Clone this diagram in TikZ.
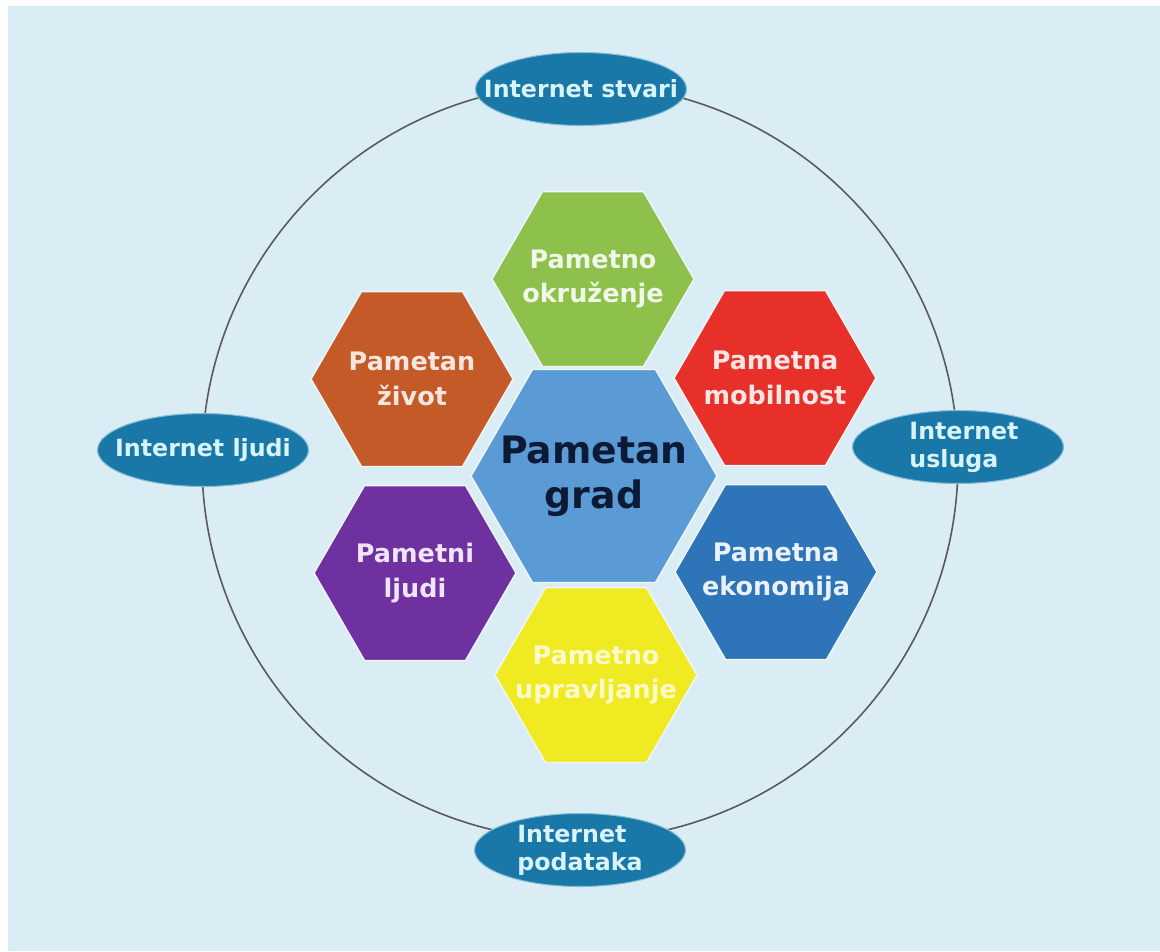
\documentclass[tikz,border=0pt]{standalone}
\usepackage{fontspec}
\setmainfont{DejaVu Sans}
\usepackage{xcolor}
\usetikzlibrary{shapes.geometric}
\definecolor{bgblue}{HTML}{DBEDF4}
\definecolor{ovalblue}{HTML}{1A78A8}
\definecolor{ovaltext}{HTML}{D8F4FA}
\definecolor{hubblue}{HTML}{5B9BD5}
\definecolor{hubtext}{HTML}{0C1A36}
\definecolor{envgreen}{HTML}{8DC14C}
\definecolor{lifeorange}{HTML}{C45A28}
\definecolor{mobred}{HTML}{E8302A}
\definecolor{peoplepurple}{HTML}{7031A0}
\definecolor{econblue}{HTML}{2E74B8}
\definecolor{govyellow}{HTML}{F0EA22}

\begin{document}
\begin{tikzpicture}[x=0.02cm, y=-0.02cm,
  hexa/.style={regular polygon, regular polygon sides=6, minimum size=4.04cm, inner sep=0pt, draw=white!55!bgblue, line width=0.8pt},
  hexlabel/.style={align=center, font=\bfseries\fontsize{14.5}{19.5}\selectfont},
  hub/.style={hexa, minimum size=4.92cm, fill=hubblue},
  hublabel/.style={align=center, text=hubtext, font=\bfseries\fontsize{21.5}{25.5}\selectfont},
  oval/.style={ellipse, fill=ovalblue, draw=ovaltext!55!ovalblue, line width=0.6pt, minimum width=4.22cm, minimum height=1.46cm, inner sep=0pt},
  ovallabel/.style={align=left, text=ovaltext, font=\bfseries\fontsize{13.5}{16}\selectfont},
  ring/.style={draw=black!65, line width=0.9pt}
]
  % background and page size
  \fill[white] (0,0) rectangle (1160,951);
  \fill[bgblue] (8,6) rectangle (1160,951);
  \useasboundingbox (0,0) rectangle (1160,951);

  % outer ring
  \coordinate (middle) at (580,462);
  \draw[ring] (middle) circle (378);

  % internets on the ring
  \node[oval, label={[ovallabel]center:Internet stvari}] (stvari) at (581,89) {};
  \node[oval, label={[ovallabel, xshift=0.12cm]center:{Internet\\usluga}}] (usluga) at (958,447) {};
  \node[oval, label={[ovallabel]center:{Internet\\podataka}}] (podataka) at (580,850) {};
  \node[oval, label={[ovallabel]center:Internet ljudi}] (ljudi) at (203,450) {};

  % honeycomb
  \node[hub, label={[hublabel]center:{Pametan\\grad}}] (grad) at (594,476) {};
  \node[hexa, fill=envgreen, label={[hexlabel, text=envgreen!12!white]center:{Pametno\\okruženje}}] (okruzenje) at (593,279) {};
  \node[hexa, fill=lifeorange, label={[hexlabel, text=lifeorange!15!white]center:{Pametan\\život}}] (zivot) at (412,379) {};
  \node[hexa, fill=mobred, label={[hexlabel, text=mobred!12!white]center:{Pametna\\mobilnost}}] (mobilnost) at (775,378) {};
  \node[hexa, fill=peoplepurple, label={[hexlabel, text=peoplepurple!12!white]center:{Pametni\\ljudi}}] (pljudi) at (415,573) {};
  \node[hexa, fill=econblue, label={[hexlabel, text=econblue!10!white]center:{Pametna\\ekonomija}}] (ekonomija) at (776,572) {};
  \node[hexa, fill=govyellow, label={[hexlabel, text=govyellow!25!white]center:{Pametno\\upravljanje}}] (upravljanje) at (596,675) {};
\end{tikzpicture}
\end{document}
